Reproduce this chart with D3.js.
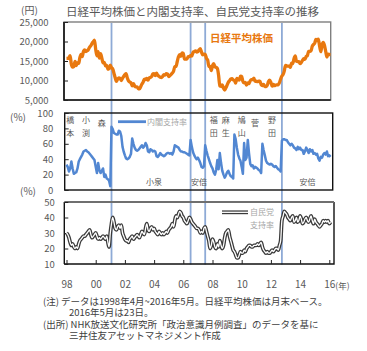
<!DOCTYPE html>
<html><head><meta charset="utf-8">
<script src="https://cdn.jsdelivr.net/npm/d3@7"></script>
<style>
body{margin:0;background:#fff;}
svg{display:block;font-family:"Noto Sans CJK JP","Noto Sans",sans-serif;}
</style></head><body>
<svg id="c" width="367" height="351"></svg>
<script>
// ---- data: monthly, April 1998 .. May 2016 ----
const firstMonth = [1998, 4];
const nikkei = [
15641,15670,15830,16378,14107,13406,13564,14883,13842,
14499,14367,15837,16701,16112,17530,17862,17437,17605,17942,18558,18934,
19540,19960,20337,17974,16332,17411,15727,16861,15747,14539,14649,13785,
13843,12883,12999,13934,13262,12969,11860,10713,9775,10366,10697,10543,
9997,10587,11025,11492,11764,10622,9877,9619,9383,8640,9216,8579,
8340,8363,7973,7831,8425,9083,9563,10344,10219,10560,10101,10677,
10784,11042,11715,11762,11236,11859,11326,11082,10824,10771,11069,11489,
11388,11741,11669,11009,11277,11584,11900,12414,13574,13607,14872,16111,
16650,16205,17060,16907,15467,15505,15457,16141,16128,16399,16274,17226,
17383,17604,17288,17400,17876,18138,17249,16569,16786,16738,15681,15308,
13592,13604,12526,13850,14339,13482,13377,13073,11260,8577,8512,8860,
7994,7568,8110,8828,9523,9958,10357,10493,10133,10035,9346,10546,
10198,10126,11090,11057,9769,9383,9537,8824,9369,9202,9937,10229,
10238,10624,9755,9850,9694,9816,9833,8955,8700,8988,8435,8455,
8803,9723,10084,9521,8543,9007,8695,8840,8870,8928,9446,10395,
11139,11559,12398,13861,13775,13677,13668,13389,14456,14328,15662,16291,
14915,14841,14828,14304,14632,15162,15621,15425,16174,16414,17460,17451,
17674,18798,19207,19520,20563,20236,20585,18890,17388,19083,19747,19034,
17518,16027,16759,16666,16655];
const cabinet = [
33,30,24,28,37,28,21,22,23,
28,37,40,43,46,50,51,52,50,49,47,45,
43,41,39,30,22,35,26,22,25,28,17,20,
15,14,12,5,82,79,74,73,72,72,77,76,
70,56,50,45,41,40,41,43,47,67,60,55,
52,51,52,54,56,58,55,57,61,58,50,49,
53,52,50,51,50,44,43,45,48,46,45,44,
45,47,48,48,47,48,46,50,58,57,56,55,
52,50,50,49,49,48,47,46,45,65,56,49,
45,42,40,42,39,35,30,29,31,58,51,45,
40,35,31,28,23,20,26,39,27,48,35,25,
20,16,19,23,25,21,18,17,15,72,66,55,
46,41,38,30,21,61,39,42,65,48,34,31,
32,28,30,29,28,26,25,22,60,52,45,38,
35,34,33,34,33,31,30,31,29,27,26,24,
64,66,66,65,65,62,60,58,60,58,55,54,
52,56,53,55,52,52,47,50,55,52,48,53,
50,52,47,48,46,47,41,38,43,42,46,48,
46,50,44,45,43];
const ldp = [
30,29,27,24,22,23,21,20,21,
20,23,25,26,27,28,28,29,30,31,32,29,
27,28,29,30,28,26,27,26,27,28,27,26,
28,24,21,30,36,40,37,33,32,34,35,33,
35,30,28,26,25,25,24,26,27,28,26,27,
28,29,28,27,29,31,30,29,33,36,32,31,
33,34,32,33,31,30,29,31,30,29,30,29,
30,31,30,32,33,34,36,34,38,41,40,42,
44,43,41,40,38,37,36,38,40,39,37,36,
35,34,33,33,32,30,31,30,33,34,31,28,
25,20,22,26,24,21,20,23,21,25,22,20,
22,27,30,31,32,28,25,22,19,18,16,14,
14,16,18,17,17,19,18,20,21,22,22,21,
21,22,22,22,23,22,23,24,21,19,18,17,
18,17,17,18,19,18,19,20,20,19,22,25,
38,41,44,43,42,40,39,38,40,41,37,38,
40,37,38,41,39,36,37,39,40,38,37,39,
41,38,36,39,37,36,35,34,35,36,38,37,
38,37,38,36,37];

const xTickMonths = [[1998,4],[2000,4],[2002,4],[2004,4],[2006,4],[2008,4],[2010,4],[2012,4],[2014,4],[2016,4]];
const xTickLabels = ["98","00","02","04","06","08","10","12","14","16"];
const nikkeiTicks = [5000,10000,15000,20000,25000];
const cabinetTicks = [0,20,40,60,80,100];
const ldpTicks = [10,20,30,40,50];
const pmChangeMonths = [[2001,5],[2006,10],[2007,10],[2013,1]];
const pmTopNames = ["橋本","小渕","森","福田","麻生","鳩山","菅","野田"];
const pmTopMonths = [[1998,7],[1999,8],[2000,9],[2008,5],[2009,3],[2010,4],[2011,3],[2012,5]];
const pmBottomNames = ["小泉","安倍","安倍"];
const pmBottomMonths = [[2004,4],[2007,5],[2014,10]];
const title = "日経平均株価と内閣支持率、自民党支持率の推移";
const notes = [
 "(注) データは1998年4月~2016年5月。日経平均株価は月末ベース。",
 "2016年5月は23日。",
 "(出所) NHK放送文化研究所「政治意識月例調査」のデータを基に",
 "三井住友アセットマネジメント作成"];

// ---- drawing ----
const svg = d3.select("#c");
const md = ([y,m]) => new Date(y, m-1, 1);
const months = nikkei.map((_, i) => new Date(firstMonth[0], firstMonth[1]-1+i, 1));
const x = d3.scaleTime().domain([months[0], months[months.length-1]]).range([66.5, 330.5]);
const yN = d3.scaleLinear().domain([5000,25000]).range([100,22]);
const yC = d3.scaleLinear().domain([0,100]).range([190,113]);
const yL = d3.scaleLinear().domain([10,50]).range([264,202]);
const gray = "#595959";

// title & units
svg.append("text").attr("x",66).attr("y",16).attr("font-size",11.5).attr("fill",gray).text(title);
svg.append("text").attr("x",21).attr("y",13.5).attr("font-size",10).attr("fill",gray).text("(円)");
svg.append("text").attr("x",10).attr("y",121).attr("font-size",10).attr("fill",gray).text("(%)");
svg.append("text").attr("x",20).attr("y",194.5).attr("font-size",10).attr("fill",gray).text("(%)");

// vertical PM change lines
svg.append("g").selectAll("line").data(pmChangeMonths).join("line")
  .attr("x1", d => x(md(d))).attr("x2", d => x(md(d)))
  .attr("y1", 23).attr("y2", 264.5)
  .attr("stroke", "#8eaad6").attr("stroke-width", 1.8);

// frames
svg.append("rect").attr("x",64).attr("y",22).attr("width",266.7).attr("height",78)
  .attr("fill","none").attr("stroke","#7f7f7f").attr("stroke-width",1.4);
svg.append("path").attr("d","M64,22V100H330.7").attr("fill","none").attr("stroke","#111").attr("stroke-width",1.6);
svg.append("rect").attr("x",64.7).attr("y",113).attr("width",268).attr("height",77)
  .attr("fill","none").attr("stroke","#111").attr("stroke-width",1.4);
svg.append("path").attr("d","M64.3,264V202").attr("fill","none").attr("stroke","#111").attr("stroke-width",1.4);
svg.append("path").attr("d","M64.3,264H334V202").attr("fill","none").attr("stroke","#111").attr("stroke-width",1.4);
svg.append("path").attr("d","M64.3,202H334").attr("fill","none").attr("stroke","#6f6f6f").attr("stroke-width",2);

function styleAxis(g, fs) {
  g.select(".domain").remove();
  g.selectAll(".tick line").attr("stroke","#222").attr("stroke-width",1);
  g.selectAll(".tick text").attr("fill",gray).attr("font-size",fs)
    .attr("font-family",'"Noto Sans CJK JP","Noto Sans",sans-serif');
}
svg.append("g").attr("transform","translate(64,0)")
  .call(d3.axisLeft(yN).tickValues(nikkeiTicks).tickFormat(d3.format(",")).tickSizeInner(-4).tickSizeOuter(0).tickPadding(15.5))
  .call(g => styleAxis(g, 9.5));
svg.append("g").attr("transform","translate(64.7,0)")
  .call(d3.axisLeft(yC).tickValues(cabinetTicks).tickSizeInner(-4).tickSizeOuter(0).tickPadding(11.5))
  .call(g => styleAxis(g, 9.5));
svg.append("g").attr("transform","translate(64.3,0)")
  .call(d3.axisLeft(yL).tickValues(ldpTicks).tickSizeInner(-4).tickSizeOuter(0).tickPadding(9.5))
  .call(g => styleAxis(g, 9.5));
svg.append("g").attr("transform","translate(0,264)")
  .call(d3.axisBottom(x).tickValues(xTickMonths.map(md)).tickFormat((d,i) => xTickLabels[i]).tickSizeInner(-4).tickSizeOuter(0).tickPadding(17))
  .call(g => styleAxis(g, 10));
svg.append("text").attr("x", x(md(xTickMonths[xTickMonths.length-1])) + 6).attr("y", 288.5)
  .attr("font-size", 8.5).attr("fill", gray).text("(年)");

// series lines
const lineN = d3.line().x((d,i) => x(months[i])).y(d => yN(d)).curve(d3.curveMonotoneX);
const lineC = d3.line().x((d,i) => x(months[i])).y(d => yC(d));
const lineL = d3.line().x((d,i) => x(months[i])).y(d => yL(d)).curve(d3.curveMonotoneX);

svg.append("path").attr("d", lineN(nikkei)).attr("fill","none").attr("stroke","#e8780f")
  .attr("stroke-width",3.3).attr("stroke-linejoin","round");
svg.append("path").attr("d", lineC(cabinet)).attr("fill","none").attr("stroke","#5287d2")
  .attr("stroke-width",2.5).attr("stroke-linejoin","round");
svg.append("path").attr("d", lineL(ldp)).attr("fill","none").attr("stroke","#3a3a3a")
  .attr("stroke-width",3.8).attr("stroke-linejoin","round");
svg.append("path").attr("d", lineL(ldp)).attr("fill","none").attr("stroke","#fff")
  .attr("stroke-width",1.3).attr("stroke-linejoin","round");

// legends
svg.append("text").attr("x",210).attr("y",42).attr("font-size",10.5).attr("font-weight","bold")
  .attr("fill","#e8780f").text("日経平均株価");
svg.append("line").attr("x1",118).attr("x2",146).attr("y1",121.7).attr("y2",121.7)
  .attr("stroke","#5287d2").attr("stroke-width",2.8);
svg.append("text").attr("x",147).attr("y",125).attr("font-size",8).attr("fill","#a6a6a6").text("内閣支持率");
svg.append("line").attr("x1",222).attr("x2",248).attr("y1",212.3).attr("y2",212.3)
  .attr("stroke","#3a3a3a").attr("stroke-width",3.8);
svg.append("line").attr("x1",222).attr("x2",248).attr("y1",212.3).attr("y2",212.3)
  .attr("stroke","#fff").attr("stroke-width",1.3);
svg.append("text").attr("x",250).attr("y",215).attr("font-size",8).attr("fill","#a6a6a6").text("自民党");
svg.append("text").attr("x",250).attr("y",228).attr("font-size",8).attr("fill","#a6a6a6").text("支持率");

// PM names
const pmG = svg.append("g").attr("font-size",8).attr("fill",gray).attr("text-anchor","middle");
pmTopNames.forEach((n, k) => {
  const cx = x(md(pmTopMonths[k]));
  const chars = Array.from(n);
  if (chars.length === 1) {
    pmG.append("text").attr("x",cx).attr("y",125.5).text(chars[0]);
  } else {
    chars.forEach((c, j) => pmG.append("text").attr("x",cx).attr("y",123.3 + j*12.3).text(c));
  }
});
pmBottomNames.forEach((n, k) => {
  pmG.append("text").attr("x", x(md(pmBottomMonths[k]))).attr("y",184.5).text(n);
});

// notes
const nG = svg.append("g").attr("font-size",9.5).attr("fill","#404040");
nG.append("text").attr("x",43).attr("y",304.8).text(notes[0]);
nG.append("text").attr("x",69).attr("y",315.6).text(notes[1]);
nG.append("text").attr("x",43).attr("y",328.3).text(notes[2]);
nG.append("text").attr("x",69).attr("y",339.2).text(notes[3]);
</script>
</body></html>
